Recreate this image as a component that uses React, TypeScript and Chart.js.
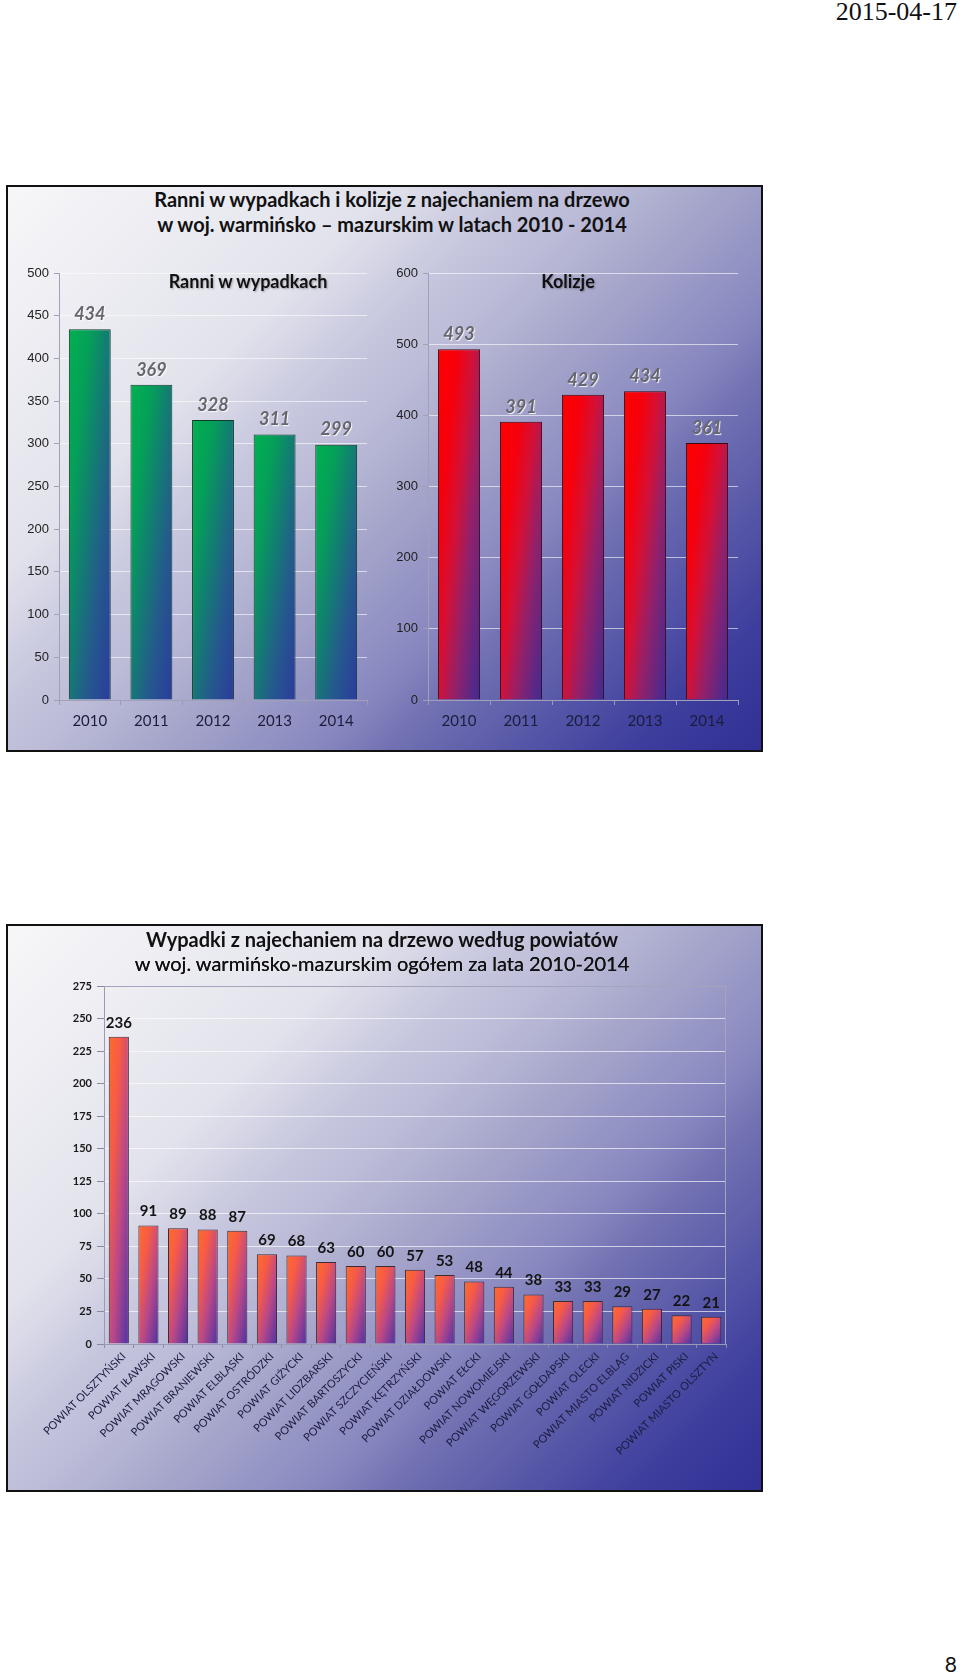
import React, { useEffect, useRef } from "react";
import { Chart, registerables } from "chart.js";

Chart.register(...registerables);

// ---------- DATA ----------
const years: string[] = ["2010", "2011", "2012", "2013", "2014"];
const ranniValues: number[] = [434, 369, 328, 311, 299];
const kolizjeValues: number[] = [493, 391, 429, 434, 361];

const powiaty: string[] = [
  "POWIAT OLSZTYŃSKI",
  "POWIAT IŁAWSKI",
  "POWIAT MRĄGOWSKI",
  "POWIAT BRANIEWSKI",
  "POWIAT ELBLĄSKI",
  "POWIAT OSTRÓDZKI",
  "POWIAT GIŻYCKI",
  "POWIAT LIDZBARSKI",
  "POWIAT BARTOSZYCKI",
  "POWIAT SZCZYCIEŃSKI",
  "POWIAT KĘTRZYŃSKI",
  "POWIAT DZIAŁDOWSKI",
  "POWIAT EŁCKI",
  "POWIAT NOWOMIEJSKI",
  "POWIAT WĘGORZEWSKI",
  "POWIAT GOŁDAPSKI",
  "POWIAT OLECKI",
  "POWIAT MIASTO ELBLĄG",
  "POWIAT NIDZICKI",
  "POWIAT PISKI",
  "POWIAT MIASTO OLSZTYN",
];
const powiatyValues: number[] = [236, 91, 89, 88, 87, 69, 68, 63, 60, 60, 57, 53, 48, 44, 38, 33, 33, 29, 27, 22, 21];

const ranniAxis = { max: 500, step: 50 };
const kolizjeAxis = { max: 600, step: 100 };
const powiatyAxis = { max: 275, step: 25 };

const mainTitle = ["Ranni w wypadkach i kolizje z najechaniem na drzewo", "w woj. warmińsko – mazurskim w latach 2010 - 2014"];
const ranniTitle = "Ranni w wypadkach";
const kolizjeTitle = "Kolizje";
const powiatyTitle = ["Wypadki z najechaniem na drzewo według powiatów", "w woj. warmińsko-mazurskim ogółem za lata 2010-2014"];
const dateText = "2015-04-17";
const pageNumber = "8";

// ---------- STYLES ----------
const FONT = "Lato, 'Open Sans', sans-serif";
const GREEN_STOPS: [number, string][] = [
  [0, "#00b050"],
  [0.25, "#04a058"],
  [0.45, "#118070"],
  [0.7, "#245a8c"],
  [1, "#2c3a9e"],
];
const RED_STOPS: [number, string][] = [
  [0, "#ff0000"],
  [0.25, "#f6000c"],
  [0.45, "#d41036"],
  [0.65, "#962068"],
  [1, "#3c2c96"],
];
const ORANGE_STOPS: [number, string][] = [
  [0, "#ff6c28"],
  [0.3, "#f65a48"],
  [0.6, "#b84888"],
  [1, "#4a32a6"],
];
const PANEL_BG =
  "linear-gradient(135deg, #f7f7f9 0%, #e2e2ec 29%, #c6c6de 39%, #bcbcd8 45%, #a8a8cc 53%, #8888c0 66%, #7070b2 72%, #3e3e9e 90%, #303096 100%)";

function barGradient(stops: [number, string][], wx: number, wy: number) {
  return (c: any) => {
    const chart = c.chart;
    const xs = chart.scales?.x;
    const ys = chart.scales?.y;
    if (!chart.chartArea || !xs || !ys || c.type !== "data") return stops[0][1];
    const ds = chart.data.datasets[c.datasetIndex];
    const n = chart.data.labels.length;
    const catW = xs.width / n;
    const bw = catW * (ds.barPercentage ?? 0.9) * (ds.categoryPercentage ?? 0.8);
    const cx = xs.getPixelForValue(c.dataIndex);
    const top = ys.getPixelForValue(c.raw);
    const bottom = ys.getPixelForValue(0);
    const left = cx - bw / 2;
    const h = Math.max(bottom - top, 1);
    const A = wx / bw;
    const B = wy / h;
    const nn = A * A + B * B;
    const g = chart.ctx.createLinearGradient(left, top, left + A / nn, top + B / nn);
    stops.forEach(([o, col]) => g.addColorStop(o, col));
    return g;
  };
}

const valueLabelsPlugin = {
  id: "valueLabels",
  afterDatasetsDraw(chart: any, _args: any, opts: any) {
    const { ctx } = chart;
    const meta = chart.getDatasetMeta(0);
    const data = chart.data.datasets[0].data;
    ctx.save();
    ctx.font = opts.font;
    ctx.fillStyle = opts.color;
    ctx.textAlign = "center";
    ctx.textBaseline = "middle";
    if (opts.shadow) {
      ctx.shadowColor = opts.shadow;
      ctx.shadowOffsetX = 1;
      ctx.shadowOffsetY = 1;
      ctx.shadowBlur = 1;
    }
    meta.data.forEach((bar: any, i: number) => {
      ctx.fillText(String(data[i]), bar.x, bar.y - opts.offset);
    });
    ctx.restore();
  },
};

const framePlugin = {
  id: "frame",
  afterDraw(chart: any, _args: any, opts: any) {
    if (!opts || !opts.color) return;
    const { ctx, chartArea } = chart;
    ctx.save();
    ctx.strokeStyle = opts.color;
    ctx.lineWidth = 1;
    ctx.beginPath();
    ctx.moveTo(chartArea.left, chartArea.top + 0.5);
    ctx.lineTo(chartArea.right - 0.5, chartArea.top + 0.5);
    ctx.lineTo(chartArea.right - 0.5, chartArea.bottom);
    ctx.stroke();
    ctx.restore();
  },
};

function topChartConfig(values: number[], axis: { max: number; step: number }, stops: [number, string][], wx: number, wy: number, yWidth: number, border: string) {
  return {
    type: "bar",
    data: {
      labels: years,
      datasets: [
        {
          data: values,
          backgroundColor: barGradient(stops, wx, wy),
          borderColor: border,
          borderWidth: 1,
          barPercentage: 0.68,
          categoryPercentage: 1,
        },
      ],
    },
    options: {
      animation: false,
      responsive: false,
      maintainAspectRatio: false,
      layout: { padding: { top: 18, right: 5, left: 0, bottom: 0 } },
      plugins: {
        legend: { display: false },
        tooltip: { enabled: false },
        title: { display: false },
        valueLabels: { font: `italic bold 18px ${FONT}`, color: "#66666e", offset: 15, shadow: "rgba(255,255,255,0.9)" },
      },
      scales: {
        x: {
          grid: { drawOnChartArea: false, drawTicks: true, tickLength: 5, color: "#9a9ab4", offset: true },
          border: { color: "#a0a0b8" },
          ticks: { font: { family: FONT, size: 15 }, color: "#1c1c3c", padding: 7, maxRotation: 0 },
          afterFit: (s: any) => {
            s.height = 40;
          },
        },
        y: {
          min: 0,
          max: axis.max,
          ticks: { stepSize: axis.step, font: { family: "'Liberation Sans', Arial, sans-serif", size: 13 }, color: "#222", padding: 5 },
          grid: { color: "rgba(255,255,255,0.6)", tickLength: 5, tickColor: "#a0a0b8" },
          border: { color: "#a0a0b8" },
          afterFit: (s: any) => {
            s.width = yWidth;
          },
        },
      },
    },
    plugins: [valueLabelsPlugin],
  };
}

function bottomChartConfig() {
  return {
    type: "bar",
    data: {
      labels: powiaty,
      datasets: [
        {
          data: powiatyValues,
          backgroundColor: barGradient(ORANGE_STOPS, 0.5, 0.5),
          borderColor: "#3a2a3a",
          borderWidth: 1,
          barPercentage: 0.68,
          categoryPercentage: 1,
        },
      ],
    },
    options: {
      animation: false,
      responsive: false,
      maintainAspectRatio: false,
      layout: { padding: { top: 20, right: 6, left: 0, bottom: 0 } },
      plugins: {
        legend: { display: false },
        tooltip: { enabled: false },
        valueLabels: { font: `bold 15px ${FONT}`, color: "#141414", offset: 14, shadow: null },
        frame: { color: "#a4a4bc" },
      },
      scales: {
        x: {
          grid: { drawOnChartArea: false, drawTicks: true, tickLength: 4, color: "#8a8aa4", offset: true },
          border: { color: "#9a9ab4" },
          ticks: {
            font: { family: FONT, size: 11 },
            color: "#1c1c40",
            padding: 2,
            labelOffset: 5,
            autoSkip: false,
            maxRotation: 45,
            minRotation: 45,
          },
          afterFit: (s: any) => {
            s.height = 140;
          },
        },
        y: {
          min: 0,
          max: powiatyAxis.max,
          ticks: { stepSize: powiatyAxis.step, font: { family: FONT, size: 11, weight: "bold" }, color: "#1a1a1a", padding: 5 },
          grid: {
            color: (c: any) => (c.tick && c.tick.value === powiatyAxis.max ? "#a4a4bc" : "rgba(255,255,255,0.65)"),
            tickLength: 7,
            tickColor: "#8a8aa4",
          },
          border: { color: "#9a9ab4" },
          afterFit: (s: any) => {
            s.width = 84;
          },
        },
      },
    },
    plugins: [valueLabelsPlugin, framePlugin],
  };
}

function ChartCanvas({ left, top, width, height, make }: { left: number; top: number; width: number; height: number; make: () => any }) {
  const ref = useRef<HTMLCanvasElement | null>(null);
  useEffect(() => {
    if (!ref.current) return;
    const chart = new Chart(ref.current, make());
    return () => chart.destroy();
  }, []);
  return (
    <canvas
      ref={ref}
      width={width}
      height={height}
      style={{ position: "absolute", left, top, width, height }}
    />
  );
}

const abs = (s: any) => ({ position: "absolute" as const, ...s });

export default function App() {
  return (
    <div style={abs({ left: 0, top: 0, width: 960, height: 1676, background: "#fff", overflow: "hidden", fontFamily: FONT })}>
      <div
        style={abs({
          right: 3,
          top: -1,
          fontFamily: "'Liberation Serif', 'Times New Roman', serif",
          fontSize: 26,
          lineHeight: "26px",
          color: "#111",
          whiteSpace: "nowrap",
        })}
      >
        {dateText}
      </div>

      {/* top panel */}
      <div style={abs({ left: 6, top: 185, width: 753, height: 563, border: "2px solid #111", background: PANEL_BG })} />
      <div
        style={abs({
          left: 392,
          top: 187,
          transform: "translateX(-50%)",
          textAlign: "center",
          fontWeight: 700,
          fontSize: 20,
          lineHeight: "25px",
          color: "#111",
          whiteSpace: "nowrap",
        })}
      >
        <div>{mainTitle[0]}</div>
        <div>{mainTitle[1]}</div>
      </div>
      <ChartCanvas left={12} top={255} width={360} height={485} make={() => topChartConfig(ranniValues, ranniAxis, GREEN_STOPS, 0.5, 0.5, 47, "#143a2a")} />
      <ChartCanvas left={392} top={255} width={351} height={485} make={() => topChartConfig(kolizjeValues, kolizjeAxis, RED_STOPS, 0.55, 0.45, 36, "#3a0a14")} />
      <div
        style={abs({
          left: 248,
          top: 270,
          transform: "translateX(-50%)",
          fontWeight: 700,
          fontSize: 18,
          lineHeight: "22px",
          color: "#111",
          whiteSpace: "nowrap",
          textShadow: "1px 1px 2px rgba(0,0,0,0.3)",
        })}
      >
        {ranniTitle}
      </div>
      <div
        style={abs({
          left: 568,
          top: 270,
          transform: "translateX(-50%)",
          fontWeight: 700,
          fontSize: 18,
          lineHeight: "22px",
          color: "#111",
          whiteSpace: "nowrap",
          textShadow: "1px 1px 2px rgba(0,0,0,0.3)",
        })}
      >
        {kolizjeTitle}
      </div>

      {/* bottom panel */}
      <div style={abs({ left: 6, top: 924, width: 753, height: 564, border: "2px solid #111", background: PANEL_BG })} />
      <ChartCanvas left={20} top={966} width={712} height={518} make={bottomChartConfig} />
      <div
        style={abs({
          left: 382,
          top: 927,
          transform: "translateX(-50%)",
          textAlign: "center",
          fontSize: 20,
          lineHeight: "24px",
          color: "#111",
          whiteSpace: "nowrap",
        })}
      >
        <div style={{ fontWeight: 700 }}>{powiatyTitle[0]}</div>
        <div style={{ fontWeight: 400, textShadow: "0 0 0.4px #111" }}>{powiatyTitle[1]}</div>
      </div>

      <div style={abs({ right: 3, top: 1653, fontSize: 21, lineHeight: "21px", color: "#111" })}>{pageNumber}</div>
    </div>
  );
}
